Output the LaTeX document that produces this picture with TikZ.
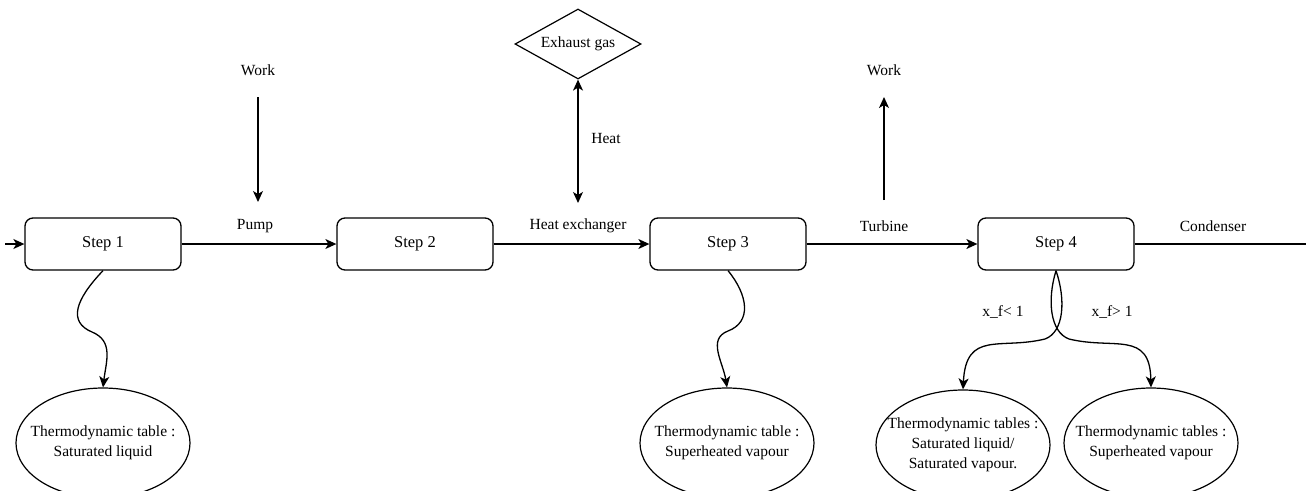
\documentclass[tikz,border=0pt]{standalone}
\usepackage{fontspec}
\setmainfont{Liberation Serif}
\usetikzlibrary{arrows.meta,shapes.geometric}
\begin{document}
\begin{tikzpicture}[x=1pt,y=-1pt,
  every node/.style={font=\fontsize{15.5}{20}\selectfont},
  stepbox/.style={draw,line width=1.3pt,rounded corners=8pt,minimum width=156pt,minimum height=52pt,inner sep=0pt,font=\fontsize{16.5}{20}\selectfont},
  tablebox/.style={draw,line width=1.2pt,ellipse,minimum width=174pt,minimum height=110pt,inner xsep=-30pt,inner ysep=0pt,align=center},
  lbl/.style={inner sep=1pt},
  conn/.style={line width=1.3pt,-{Stealth[length=11pt,width=10pt,inset=3pt]}},
  dconn/.style={line width=1.3pt,{Stealth[length=11pt,width=10pt,inset=3pt]}-{Stealth[length=11pt,width=10pt,inset=3pt]}},
  plain/.style={line width=1.3pt}]
\clip (0,0) rectangle (1306,490);
\useasboundingbox (0,0) rectangle (1306,490);
% steps
\node[stepbox] (s1) at (103,244) {Step 1};
\node[stepbox] (s2) at (415,244) {Step 2};
\node[stepbox] (s3) at (728,244) {Step 3};
\node[stepbox] (s4) at (1056,244) {Step 4};
% tables
\node[tablebox] (e1) at (103,443) {Thermodynamic table :\\Saturated liquid};
\node[tablebox] (e3) at (727,443) {Thermodynamic table :\\Superheated vapour};
\node[tablebox] (e4l) at (963,445) {Thermodynamic tables :\\Saturated liquid/\\Saturated vapour.};
\node[tablebox] (e4r) at (1151,443) {Thermodynamic tables :\\Superheated vapour};
% exhaust
\node[draw,diamond,shape aspect=1.8,line width=1.2pt,minimum width=126pt,minimum height=70pt,inner sep=0pt] (ex) at (578,44) {Exhaust gas};
% labels
\node[lbl] (pump) at (255,226) {Pump};
\node[lbl] (hx) at (578,226) {Heat exchanger};
\node[lbl] (turb) at (884,226) {Turbine};
\node[lbl] (cond) at (1213,226) {Condenser};
\node[lbl] (heat) at (606,138) {Heat};
\node[lbl] (work1) at (258,70) {Work};
\node[lbl] (work2) at (884,70) {Work};
\node[lbl] (xl) at (1003,312) {x\_f< 1};
\node[lbl] (xr) at (1112,312) {x\_f> 1};
% coordinates
\coordinate (in) at (5,244);
\coordinate (out) at (1306,244);
\coordinate (w1a) at (258,97);
\coordinate (w1b) at (258,202);
\coordinate (w2a) at (884,200);
\coordinate (w2b) at (884,97);
\coordinate (hb) at (578,203);
% main line
\draw[conn] (in) -- (s1.west);
\draw[conn] (s1.east) -- (s2.west);
\draw[conn] (s2.east) -- (s3.west);
\draw[conn] (s3.east) -- (s4.west);
\draw[plain] (s4.east) -- (out);
% work / heat
\draw[conn] (w1a) -- (w1b);
\draw[conn] (w2a) -- (w2b);
\draw[dconn] (ex.south) -- (hb);
% curves
\draw[conn] (s1.south) .. controls (75,300) and (68,322) .. (92,332) .. controls (114,341) and (106,362) .. (e1.north);
\draw[conn] (s3.south) .. controls (748,295) and (752,322) .. (728,331) .. controls (707,339) and (723,362) .. (e3.north);
\draw[conn] (s4.south) .. controls (1066,300) and (1064,332) .. (1045,339) .. controls (1000,350) and (966,330) .. (e4l.north);
\draw[conn] (s4.south) .. controls (1047,300) and (1050,332) .. (1069,339) .. controls (1114,350) and (1150,330) .. (e4r.north);
\end{tikzpicture}
\end{document}
